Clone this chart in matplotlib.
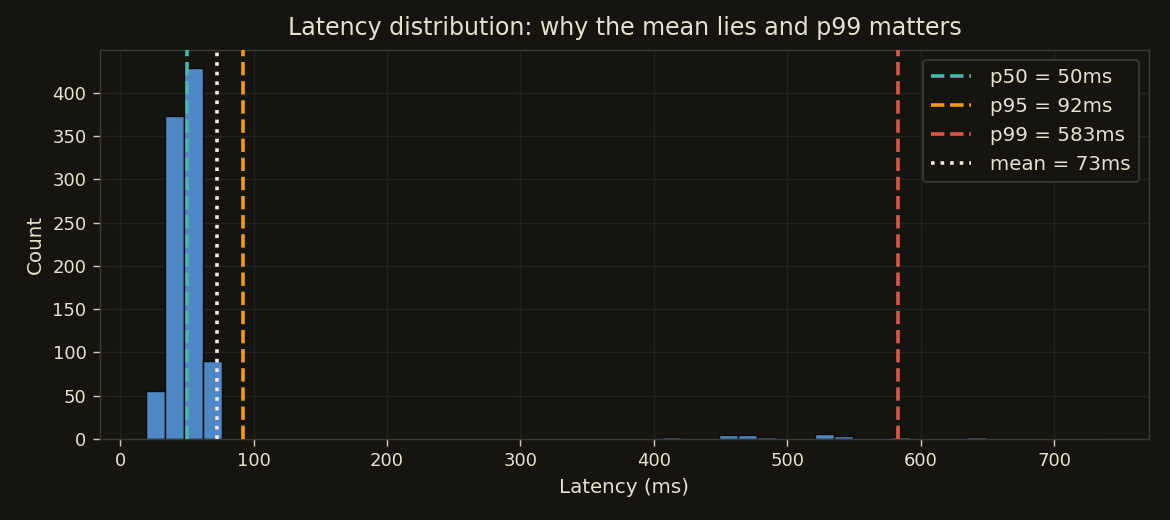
import numpy as np
import matplotlib
matplotlib.use("Agg")
import matplotlib.pyplot as plt

# ---- data ----
bin_lo, bin_hi, n_bins = 19.2, 735.2, 50
# counts per bin index (bins not listed are zero)
bin_index = [0, 1, 2, 3, 27, 30, 31, 32, 35, 36, 39, 43]
bin_count = [55, 373, 428, 90, 2, 5, 5, 2, 6, 3, 2, 2]
p50, p95, p99, mean = 50, 92, 583, 73
labels = ["p50 = 50ms", "p95 = 92ms", "p99 = 583ms", "mean = 73ms"]

BG = "#15140f"
TXT = "#e6e1cf"
GRID = "#24231d"
SPINE = "#3c3b33"

edges = np.linspace(bin_lo, bin_hi, n_bins + 1)
counts = np.zeros(n_bins)
counts[bin_index] = bin_count

fig = plt.figure(figsize=(9, 4), dpi=130, facecolor=BG)
ax = fig.add_axes([0.0855, 0.156, 0.8965, 0.748], facecolor=BG)

ax.hist(edges[:-1], bins=edges, weights=counts, color="#4e88c7",
        edgecolor="#0e0d0a", linewidth=0.8, zorder=2)

ax.axvline(p50, color="#4db6ac", ls="--", lw=2, label=labels[0], zorder=3)
ax.axvline(p95, color="#f39c12", ls="--", lw=2, label=labels[1], zorder=3)
ax.axvline(p99, color="#e05548", ls="--", lw=2, label=labels[2], zorder=3)
ax.axvline(mean, color="#f0ece0", ls=":", lw=2, label=labels[3], zorder=3)

ax.set_xlim(-15, 771)
ax.set_ylim(0, 449.4)
ax.grid(True, color=GRID, lw=0.8, zorder=0)
ax.set_axisbelow(True)
for s in ax.spines.values():
    s.set_color(SPINE)
ax.tick_params(colors=TXT, labelsize=10, length=4)
ax.tick_params(axis="both", color="#cfcab8")

ax.set_title("Latency distribution: why the mean lies and p99 matters",
             color=TXT, fontsize=13.2, pad=8)
ax.set_xlabel("Latency (ms)", color=TXT, fontsize=11)
ax.set_ylabel("Count", color=TXT, fontsize=11)

leg = ax.legend(loc="upper right", fontsize=11, facecolor=BG,
                edgecolor="#3a3a33", framealpha=1, labelcolor=TXT,
                handletextpad=1.0)

fig.savefig("out.png", dpi=130, facecolor=BG)
